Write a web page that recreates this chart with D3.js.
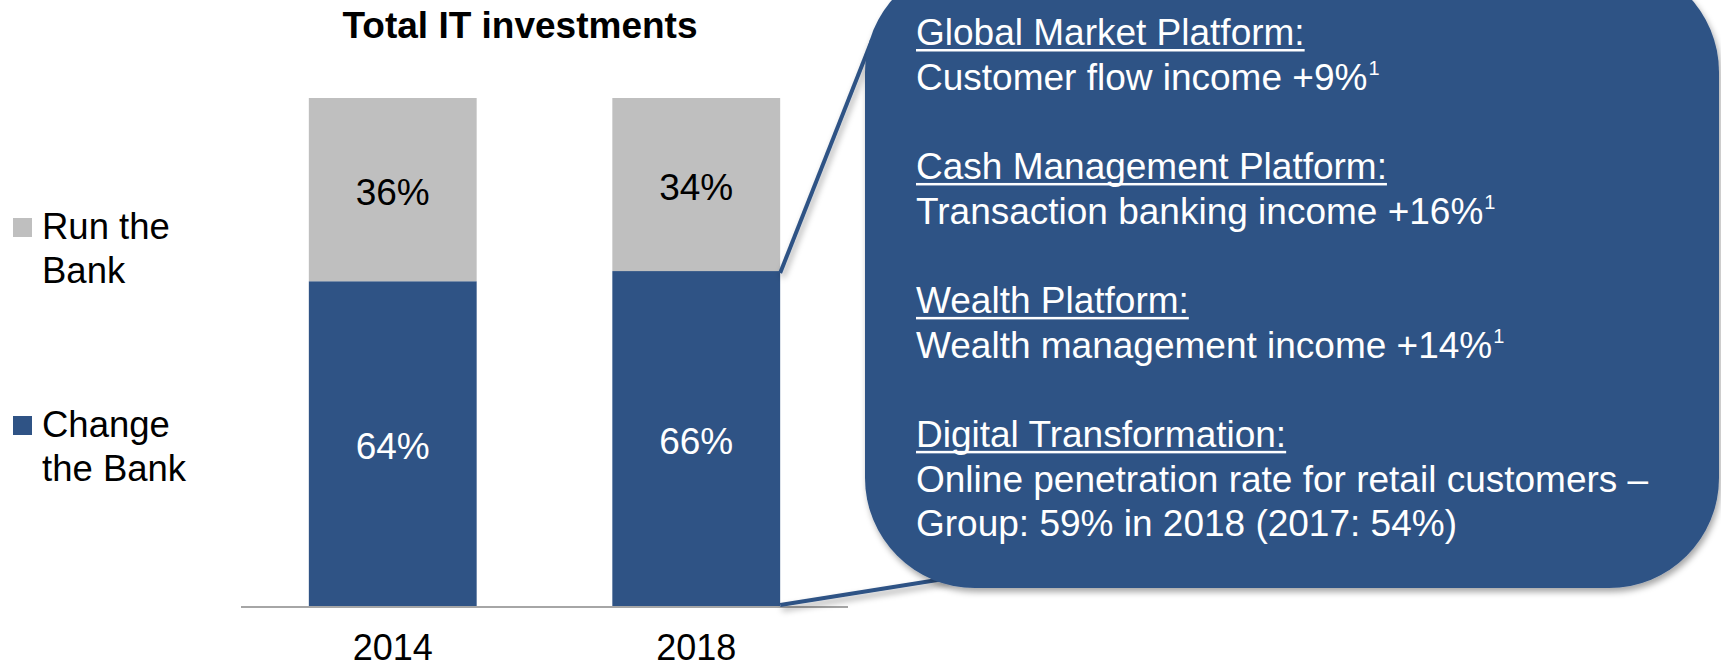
<!DOCTYPE html>
<html>
<head>
<meta charset="utf-8">
<script src="https://cdn.jsdelivr.net/npm/d3@7"></script>
<style>
  html, body { margin: 0; padding: 0; background: #fff; }
  svg { display: block; font-family: "Liberation Sans", Arial, sans-serif; }
</style>
</head>
<body>
<svg id="chart" width="1721" height="668"></svg>
<script>
// Share of total IT investments by purpose
const years = ["2014", "2018"];
const changeTheBank = [64, 66];
const runTheBank = [36, 34];
const seriesNames = ["Change the Bank", "Run the Bank"];
const legendLines = [["Run the", "Bank"], ["Change", "the Bank"]];

// Callout: heading + detail lines (sup = footnote marker)
const calloutHeads = ["Global Market Platform:", "Cash Management Platform:", "Wealth Platform:", "Digital Transformation:"];
const calloutBodies = [
  [{ t: "Customer flow income +9%", sup: "1" }],
  [{ t: "Transaction banking income +16%", sup: "1" }],
  [{ t: "Wealth management income +14%", sup: "1" }],
  [{ t: "Online penetration rate for retail customers \u2013" }, { t: "Group: 59% in 2018 (2017: 54%)" }]
];

const NAVY = "#2F5385";
const GREY = "#BFBFBF";

const svg = d3.select("#chart");

const defs = svg.append("defs");
const sh = defs.append("filter").attr("id", "shadow")
  .attr("x", "-10%").attr("y", "-10%").attr("width", "120%").attr("height", "125%");
sh.append("feDropShadow").attr("dx", 2).attr("dy", 4).attr("stdDeviation", 3)
  .attr("flood-color", "#000").attr("flood-opacity", 0.35);

const x = d3.scaleBand().domain(years).range([241, 848]).paddingInner(0.447).paddingOuter(0.2235);
const y = d3.scaleLinear().domain([0, 100]).range([607, 98]);

const rows = years.map((yr, i) => ({ year: yr, change: changeTheBank[i], run: runTheBank[i] }));
const stack = d3.stack().keys(["change", "run"])(rows);
const colors = { change: NAVY, run: GREY };

// Title
svg.append("text").attr("x", 520).attr("y", 38).attr("text-anchor", "middle")
  .attr("font-size", 37).attr("font-weight", "bold").attr("fill", "#000")
  .text("Total IT investments");

// Stacked bars
const layers = svg.append("g").selectAll("g").data(stack).join("g")
  .attr("fill", d => colors[d.key]);
layers.selectAll("rect").data(d => d).join("rect")
  .attr("x", d => x(d.data.year))
  .attr("width", x.bandwidth())
  .attr("y", d => y(d[1]))
  .attr("height", d => y(d[0]) - y(d[1]));

// Segment value labels
layers.each(function(layer) {
  d3.select(this).selectAll("text").data(layer).join("text")
    .attr("x", d => x(d.data.year) + x.bandwidth() / 2)
    .attr("y", d => (y(d[0]) + y(d[1])) / 2 + 15)
    .attr("text-anchor", "middle")
    .attr("font-size", 37)
    .attr("fill", layer.key === "change" ? "#fff" : "#000")
    .text(d => (d[1] - d[0]) + "%");
});

// Category axis
const xAxis = svg.append("g").attr("transform", `translate(0,${y(0)})`)
  .call(d3.axisBottom(x).tickSize(0).tickPadding(27).tickSizeOuter(0));
xAxis.select(".domain").attr("stroke", "#A6A6A6").attr("stroke-width", 2)
  .attr("d", `M241,0H848`);
xAxis.selectAll(".tick text").attr("font-size", 36).attr("fill", "#000")
  .attr("font-family", "'Liberation Sans', Arial, sans-serif").attr("dy", "0.71em");

// Legend
const legendItems = [
  { color: GREY, lines: legendLines[0], top: 218 },
  { color: NAVY, lines: legendLines[1], top: 416 }
];
const lg = svg.append("g");
legendItems.forEach(it => {
  lg.append("rect").attr("x", 13).attr("y", it.top).attr("width", 19).attr("height", 19).attr("fill", it.color);
  it.lines.forEach((ln, j) => {
    lg.append("text").attr("x", 42).attr("y", it.top + 21 + j * 44)
      .attr("font-size", 36.5).attr("fill", "#000").text(ln);
  });
});

// Connector lines from the 2018 "Change the Bank" segment to the callout
const bx = x("2018") + x.bandwidth();
const conn = svg.append("g").attr("filter", "url(#shadow)");
conn.append("line").attr("x1", bx).attr("y1", y(changeTheBank[1]) + 2).attr("x2", 872).attr("y2", 40)
  .attr("stroke", NAVY).attr("stroke-width", 4);
conn.append("line").attr("x1", bx).attr("y1", y(0) - 2).attr("x2", 950).attr("y2", 578)
  .attr("stroke", NAVY).attr("stroke-width", 4);

// Callout box
svg.append("rect").attr("x", 865).attr("y", -38).attr("width", 854).attr("height", 626)
  .attr("rx", 110).attr("ry", 110).attr("fill", NAVY).attr("filter", "url(#shadow)");

const cg = svg.append("g").attr("fill", "#fff").attr("font-size", 37);
const lineH = 44.65;
let line = 0;
calloutHeads.forEach((head, k) => {
  const by = 45 + line * lineH;
  const ht = cg.append("text").attr("x", 916).attr("y", by).text(head);
  const w = ht.node().getComputedTextLength();
  cg.append("rect").attr("x", 916).attr("y", by + 4).attr("width", w).attr("height", 2.5).attr("fill", "#fff");
  line++;
  calloutBodies[k].forEach(b => {
    const t = cg.append("text").attr("x", 916).attr("y", 45 + line * lineH);
    t.append("tspan").text(b.t);
    if (b.sup) t.append("tspan").attr("font-size", 20).attr("dy", -15).attr("dx", 1).text(b.sup);
    line++;
  });
  line++;
});
</script>
</body>
</html>
